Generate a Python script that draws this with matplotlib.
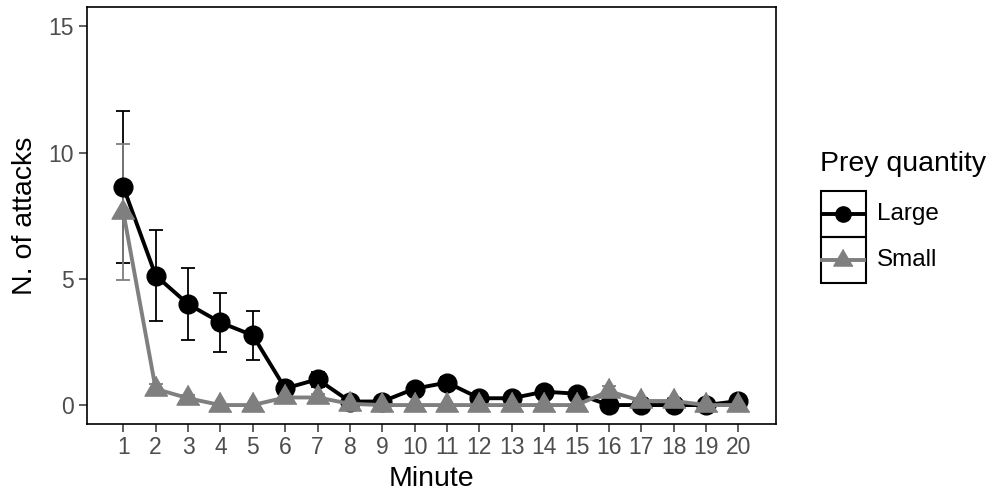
import numpy as np
import matplotlib
matplotlib.use("Agg")
import matplotlib.pyplot as plt
from matplotlib.patches import Rectangle
from matplotlib.lines import Line2D

plt.rcParams['font.family'] = ['Liberation Sans', 'DejaVu Sans']

minutes = list(range(1, 21))
large_mean = [8.64, 5.13, 4.0, 3.27, 2.76, 0.66, 1.02, 0.14, 0.14, 0.65,
              0.89, 0.27, 0.27, 0.53, 0.45, 0.0, 0.0, 0.0, 0.0, 0.16]
large_se = [3.02, 1.8, 1.42, 1.15, 0.97, 0.2, 0.3, 0.1, 0.1, 0.15,
            0.22, 0.12, 0.12, 0.15, 0.15, 0.0, 0.0, 0.0, 0.0, 0.1]
small_mean = [7.65, 0.64, 0.27, 0.0, 0.0, 0.3, 0.3, 0.05, 0.0, 0.0,
              0.0, 0.0, 0.0, 0.0, 0.0, 0.55, 0.16, 0.16, 0.0, 0.0]
small_se = [2.7, 0.2, 0.12, 0.0, 0.0, 0.12, 0.12, 0.05, 0.0, 0.0,
            0.0, 0.0, 0.0, 0.0, 0.0, 0.2, 0.1, 0.1, 0.0, 0.0]

grey = '#7f7f7f'
# triangle centred on its centroid, like R's pch 17
tri = [(0, 1), (-0.866, -0.5), (0.866, -0.5)]

fig = plt.figure(figsize=(9.97, 5.0), dpi=100)
ax = fig.add_axes([86.7/997, 1-424/500, (776-86.7)/997, (424-7.3)/500])

ax.errorbar(minutes, large_mean, yerr=large_se, fmt='none', ecolor='black',
            elinewidth=1.3, capsize=5, capthick=1.3, zorder=2)
ax.errorbar(minutes, small_mean, yerr=small_se, fmt='none', ecolor=grey,
            elinewidth=1.3, capsize=5, capthick=1.3, zorder=2)
ax.plot(minutes, large_mean, color='black', lw=2.8, marker='o', ms=13.5, zorder=3)
ax.plot(minutes, small_mean, color=grey, lw=2.8, marker=tri, ms=19, zorder=4)

ax.set_xlim(1-1.13, 20+1.16)
ax.set_ylim(-0.75, 15.75)
ax.set_xticks(minutes)
ax.set_yticks([0, 5, 10, 15])
ax.tick_params(labelsize=16.5, labelcolor='#4d4d4d', color='#333333',
               length=6, width=1.1, pad=3)
for s in ax.spines.values():
    s.set_linewidth(1.2)
    s.set_color('black')
ax.set_xlabel('Minute', fontsize=20.5, labelpad=5)
ax.set_ylabel('N. of attacks', fontsize=20.5, labelpad=8)

# legend drawn by hand: two boxed keys under a title
fig.text(820/997, 1-164/500, 'Prey quantity', fontsize=20.5, va='center', ha='left')
lax = fig.add_axes([820.7/997, 1-282.7/500, 45/997, 92/500])
lax.set_xlim(0, 1)
lax.set_ylim(0, 2)
lax.axis('off')
labels = ['Large', 'Small']
colors = ['black', grey]
markers = ['o', tri]
sizes = [11, 16]
for i in range(2):
    yy = 1.5 - i
    lax.add_patch(Rectangle((0, 1 - i), 1, 1, fill=False, ec='black', lw=1.5, clip_on=False))
    lax.add_line(Line2D([0.03, 0.97], [yy, yy], color=colors[i], lw=2.8, clip_on=False))
    lax.plot([0.5], [yy], color=colors[i], marker=markers[i], ms=sizes[i], clip_on=False)
    fig.text(877/997, 1-(214 + 46*i)/500, labels[i], fontsize=17.5, va='center', ha='left')

fig.savefig('out.png', dpi=100)
